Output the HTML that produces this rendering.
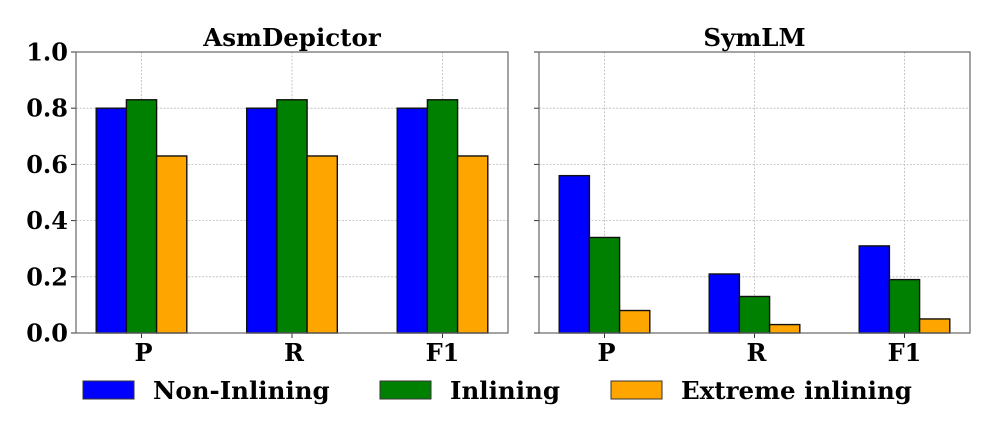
<!DOCTYPE html>
<html><head><meta charset="utf-8"><style>
body{margin:0;background:#fff;}
svg text{font-family:"DejaVu Serif","Liberation Serif",serif;font-weight:bold;fill:#000;}
</style></head><body>
<svg id="chart" width="997" height="427" xmlns="http://www.w3.org/2000/svg"></svg>
<script>
const categories = ["P","R","F1"];
const seriesNames = ["Non-Inlining","Inlining","Extreme inlining"];
const seriesColors = ["#0000ff","#008000","#ffa500"];
const panelTitles = ["AsmDepictor","SymLM"];
const asmNonInlining = [0.80,0.80,0.80];
const asmInlining = [0.83,0.83,0.83];
const asmExtreme = [0.63,0.63,0.63];
const symNonInlining = [0.56,0.21,0.31];
const symInlining = [0.34,0.13,0.19];
const symExtreme = [0.08,0.03,0.05];
const yTicks = [0,0.2,0.4,0.6,0.8,1.0];
const yTickLabels = ["0.0","0.2","0.4","0.6","0.8","1.0"];

const NS="http://www.w3.org/2000/svg";
const svg=document.getElementById('chart');
function mk(tag,attrs,parent){const e=document.createElementNS(NS,tag);for(const k in attrs)e.setAttribute(k,attrs[k]);(parent||svg).appendChild(e);return e;}
const plotTop=52,plotBottom=333;
function y(v){return plotBottom-(plotBottom-plotTop)*v;}
const panels=[{x0:76,x1:508,data:[asmNonInlining,asmInlining,asmExtreme]},{x0:539,x1:970,data:[symNonInlining,symInlining,symExtreme]}];
const barW=30.2;
panels.forEach((p,pi)=>{
  const g=mk('g',{});
  
  
  const first=p.x0+65.5, step=(p.x1-p.x0-131)/2;
  function x(i){return first+i*step;}
  yTicks.forEach((t,i)=>{
    const gl=mk('line',{x1:p.x0,x2:p.x1,y1:y(t),y2:y(t),stroke:'#bbb','stroke-width':0.8,'stroke-dasharray':'2,1.5'},g);
    
    
    mk('line',{x1:p.x0-5,x2:p.x0,y1:y(t),y2:y(t),stroke:'#333','stroke-width':1},g);
    if(pi===0){
      const tl=mk('text',{x:p.x0-8,y:y(t)+8.5,'text-anchor':'end','font-size':24},g);
      tl.textContent=yTickLabels[i];
      
      
    }
  });
  categories.forEach((c,i)=>{
    const gl=mk('line',{x1:x(i),x2:x(i),y1:plotTop,y2:plotBottom,stroke:'#bbb','stroke-width':0.8,'stroke-dasharray':'2,1.5'},g);
    
    
  });
  p.data.forEach((arr,s)=>{
    arr.forEach((v,i)=>{
      const cx=x(i)+(s-1)*barW;
      const b=mk('rect',{x:cx-barW/2,y:y(v),width:barW,height:plotBottom-y(v),fill:seriesColors[s],stroke:'#111','stroke-width':1.4},g);
      
      
    });
  });
  categories.forEach((c,i)=>{
    mk('line',{x1:x(i),x2:x(i),y1:plotBottom,y2:plotBottom+5,stroke:'#333','stroke-width':1},g);
    const tl=mk('text',{x:x(i)+(c==='F1'?0:2),y:plotBottom+28,'text-anchor':'middle','font-size':24},g);
    tl.textContent=c;
    
    
  });
  const fr=mk('rect',{x:p.x0,y:plotTop,width:p.x1-p.x0,height:plotBottom-plotTop,fill:'none',stroke:'#666','stroke-width':1.2},g);
  
  
  const tt=mk('text',{x:(p.x0+p.x1)/2,y:46,'text-anchor':'middle','font-size':24.5},g);
  tt.textContent=panelTitles[pi];
  
  
});
const legX=[83,380,611];
seriesNames.forEach((n,s)=>{
  const g=mk('g',{});
  
  
  mk('rect',{x:legX[s],y:381,width:51,height:18,fill:seriesColors[s],stroke:'#333','stroke-width':1},g);
  const t=mk('text',{x:legX[s]+70,y:399,'font-size':24.5},g);
  t.textContent=n;
});
</script>
</body></html>
